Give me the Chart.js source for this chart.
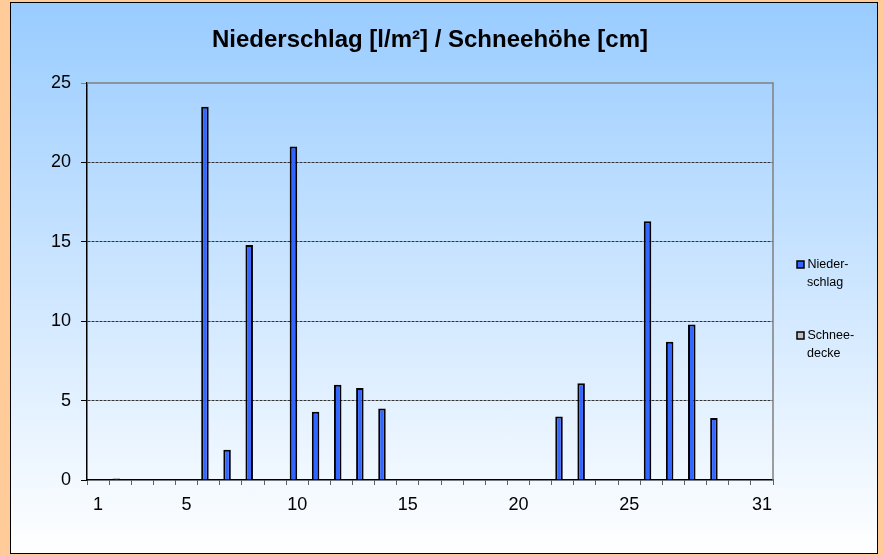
<!DOCTYPE html>
<html>
<head>
<meta charset="utf-8">
<script src="https://cdn.jsdelivr.net/npm/chart.js@4/dist/chart.umd.min.js"></script>
<style>
  html, body { margin: 0; padding: 0; }
  body { width: 884px; height: 555px; background: #ffcc99; position: relative; overflow: hidden; }
  .panel {
    position: absolute; left: 10px; top: 2px; width: 866px; height: 550px;
    border: 1px solid #000;
    background: linear-gradient(#99ccff, #ffffff);
  }
  canvas { display: block; }
</style>
</head>
<body>
<div class="panel"><canvas id="myChart" width="866" height="550"></canvas></div>
<script>
// Tage im Monat
const days = ["1","2","3","4","5","6","7","8","9","10","11","12","13","14","15","16",
  "17","18","19","20","21","22","23","24","25","26","27","28","29","30","31"];
// nur diese Tage werden an der x-Achse beschriftet
const shownDays = ["1", "5", "10", "15", "20", "25", "31"];
// Niederschlag [l/m²]
const niederschlag = [0, 0.1, 0, 0, 0, 23.5, 1.9, 14.8, 0, 21.0, 4.3, 6.0, 5.8, 4.5, 0, 0,
  0, 0, 0, 0, 0, 4.0, 6.1, 0, 0, 16.3, 8.7, 9.8, 3.9, 0, 0];
// Schneedecke [cm]
const schneedecke = [0, 0, 0, 0, 0, 0, 0, 0, 0, 0, 0, 0, 0, 0, 0, 0,
  0, 0, 0, 0, 0, 0, 0, 0, 0, 0, 0, 0, 0, 0, 0];
const yTicks = [0, 5, 10, 15, 20, 25];
const legendLines = [["Nieder-", "schlag"], ["Schnee-", "decke"]];

const fontFamily = "'Liberation Sans', Arial, sans-serif";

// Rahmen oben/rechts der Zeichenfläche + Legende
const excelExtras = {
  id: "excelExtras",
  afterDraw(chart) {
    const ctx = chart.ctx;
    const a = chart.chartArea;
    ctx.save();
    ctx.strokeStyle = "#808080";
    ctx.lineWidth = 1.5;
    ctx.beginPath();
    ctx.moveTo(a.left, a.top);
    ctx.lineTo(a.right, a.top);
    ctx.lineTo(a.right, a.bottom);
    ctx.stroke();

    // Legende
    const colors = [chart.data.datasets[0].backgroundColor, chart.data.datasets[1].backgroundColor];
    const tops = [258, 329];
    ctx.font = "12.5px " + fontFamily;
    ctx.textBaseline = "middle";
    legendLines.forEach((lines, i) => {
      const y = tops[i];
      ctx.fillStyle = colors[i];
      ctx.fillRect(786, y, 7, 7);
      ctx.strokeStyle = "#000";
      ctx.lineWidth = 1.5;
      ctx.strokeRect(786, y, 7, 7);
      ctx.fillStyle = "#000";
      ctx.fillText(lines[0], 796.5, y + 4);
      ctx.fillText(lines[1], 796, y + 21.5);
    });
    ctx.restore();
  },
};

const ctx = document.getElementById("myChart").getContext("2d");
const myChart = new Chart(ctx, {
  type: "bar",
  data: {
    labels: days,
    datasets: [
      {
        label: "Niederschlag",
        data: niederschlag,
        backgroundColor: "#3366ff",
        borderColor: "#000",
        borderWidth: 2,
        categoryPercentage: 0.68,
        barPercentage: 1,
      },
      {
        label: "Schneedecke",
        data: schneedecke,
        backgroundColor: "#c0c0c0",
        borderColor: "#000",
        borderWidth: 2,
        categoryPercentage: 0.68,
        barPercentage: 1,
      },
    ],
  },
  options: {
    responsive: false,
    animation: false,
    devicePixelRatio: 1,
    layout: { padding: { left: 0, top: 0, right: 104, bottom: 0 } },
    plugins: {
      legend: { display: false },
      tooltip: { enabled: false },
      title: {
        display: true,
        text: "Niederschlag [l/m²] / Schneehöhe [cm]",
        fullSize: false,
        color: "#000",
        font: { family: fontFamily, size: 24, weight: "bold", lineHeight: 1.2 },
        padding: { top: 22.6, bottom: 28.6 },
      },
    },
    scales: {
      x: {
        afterFit(scale) { scale.height = 73; },
        grid: {
          offset: true,
          drawOnChartArea: false,
          drawTicks: true,
          tickLength: 5,
          tickColor: "#606060",
          tickWidth: 1,
        },
        border: { display: true, color: "#000", width: 1.5 },
        ticks: {
          autoSkip: false,
          maxRotation: 0,
          padding: 9,
          color: "#000",
          font: { family: fontFamily, size: 18 },
          callback: function (value) {
            const l = this.getLabelForValue(value);
            return shownDays.includes(l) ? l : "";
          },
        },
      },
      y: {
        min: yTicks[0],
        max: yTicks[yTicks.length - 1],
        afterFit(scale) { scale.width = 76; },
        grid: {
          color: (c) => (c.tick && (c.tick.value === 0 || c.tick.value === 25) ? "rgba(0,0,0,0)" : "#333"),
          lineWidth: 1,
          tickLength: 6,
          tickColor: (c) => (c.tick && c.tick.value === 25 ? "#808080" : "#000"),
        },
        border: { display: true, color: "#000", width: 1.5, dash: [3, 1] },
        ticks: {
          stepSize: 5,
          padding: 10,
          color: "#000",
          font: { family: fontFamily, size: 18 },
        },
      },
    },
  },
  plugins: [excelExtras],
});
</script>
</body>
</html>
